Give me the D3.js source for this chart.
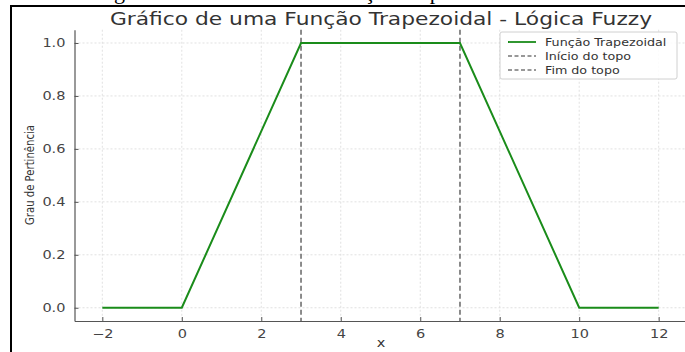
<!DOCTYPE html>
<html><head><meta charset="utf-8">
<script src="https://cdn.jsdelivr.net/npm/d3@7"></script>
<style>
html,body{margin:0;padding:0;background:#fff;}
svg{display:block;}
text{font-family:"DejaVu Sans",sans-serif;}
</style></head>
<body>
<script>
// Data
const xPoints = [-2, 0, 3, 7, 10, 12];
const yPoints = [0, 0, 1, 1, 0, 0];
const topStart = 3;
const topEnd = 7;
const xTicks = [-2, 0, 2, 4, 6, 8, 10, 12];
const yTicks = [0.0, 0.2, 0.4, 0.6, 0.8, 1.0];
const legendLabels = ["Função Trapezoidal", "Início do topo", "Fim do topo"];
const titleText = "Gráfico de uma Função Trapezoidal - Lógica Fuzzy";
const captionText = "Figura 1 - Gráfico de uma Função Trapezoidal";

const W = 685, H = 352;
const SX = 1.21; // horizontal stretch of text in the reference image
const svg = d3.select("body").append("svg").attr("width", W).attr("height", H);

// caption (cut off at top, as in the reference)
svg.append("text").attr("x", 300).attr("y", -1).attr("text-anchor", "middle")
  .style("font-family", "'Liberation Serif', serif").style("font-size", "22px")
  .attr("fill", "#000").text(captionText);

// frame
svg.append("rect").attr("x", 11).attr("y", 6).attr("width", 720).attr("height", 400)
  .attr("fill", "#fff").attr("stroke", "#000").attr("stroke-width", 2);

const x = d3.scaleLinear().domain([-2.7, 12.7]).range([74.5, 686.5]);
const y = d3.scaleLinear().domain([-0.05, 1.05]).range([321, 29.75]);

const plotTop = y(1.05), plotBottom = y(-0.05), plotLeft = x(-2.7), plotRight = x(12.7);

// grid
const g = svg.append("g");
g.selectAll(".gx").data(xTicks).join("line")
  .attr("x1", d => x(d)).attr("x2", d => x(d)).attr("y1", plotTop).attr("y2", plotBottom)
  .attr("stroke", "#d9d9d9").attr("stroke-width", 0.8).attr("stroke-dasharray", "2,2");
g.selectAll(".gy").data(yTicks).join("line")
  .attr("x1", plotLeft).attr("x2", plotRight).attr("y1", d => y(d)).attr("y2", d => y(d))
  .attr("stroke", "#d9d9d9").attr("stroke-width", 0.8).attr("stroke-dasharray", "2,2");

// axes
const xAxis = d3.axisBottom(x).tickValues(xTicks).tickSizeInner(-4).tickSizeOuter(0).tickPadding(8)
  .tickFormat(d => d < 0 ? "\u2212" + Math.abs(d) : d);
const xg = svg.append("g").attr("transform", `translate(0,${plotBottom})`).call(xAxis);
const yAxis = d3.axisLeft(y).tickValues(yTicks).tickSizeInner(-4).tickSizeOuter(0).tickPadding(7.5)
  .tickFormat(d3.format(".1f"));
const yg = svg.append("g").attr("transform", `translate(${plotLeft},0)`).call(yAxis);
[xg, yg].forEach(a => {
  a.select(".domain").attr("stroke", "#555").attr("stroke-width", 1.2);
  a.selectAll(".tick line").attr("stroke", "#555").attr("stroke-width", 1);
  a.selectAll(".tick text").attr("fill", "#444").style("font-size", "12px")
    .style("font-family", "'DejaVu Sans',sans-serif").attr("transform", `scale(${SX},1)`);
});

// dashed vertical lines
[topStart, topEnd].forEach(v => {
  svg.append("line").attr("x1", x(v)).attr("x2", x(v)).attr("y1", plotTop).attr("y2", plotBottom)
    .attr("stroke", "#666").attr("stroke-width", 1.5).attr("stroke-dasharray", "5,3");
});

// trapezoid line
const line = d3.line().x((d, i) => x(xPoints[i])).y((d, i) => y(yPoints[i]));
svg.append("path").datum(xPoints).attr("d", line).attr("fill", "none")
  .attr("stroke", "#1a8c1a").attr("stroke-width", 2);

// title
svg.append("text").attr("transform", `translate(381,25) scale(${SX},1)`).attr("text-anchor", "middle")
  .attr("fill", "#333").style("font-size", "18px").text(titleText);

// axis labels
svg.append("text").attr("transform", `translate(381,347) scale(${SX},1)`).attr("text-anchor", "middle")
  .attr("fill", "#333").style("font-size", "12px").text("x");
svg.append("text").attr("transform", "translate(34,175) rotate(-90)").attr("text-anchor", "middle")
  .attr("fill", "#333").style("font-size", "12px").style("font-family", "'DejaVu Sans Condensed','DejaVu Sans',sans-serif")
  .attr("textLength", 100).attr("lengthAdjust", "spacingAndGlyphs").text("Grau de Pertinência");

// legend
const lg = svg.append("g").attr("transform", "translate(500,32)");
lg.append("rect").attr("x", 0).attr("y", 0).attr("width", 177).attr("height", 47).attr("rx", 2)
  .attr("fill", "#fff").attr("fill-opacity", 0.85).attr("stroke", "#d0d0d0").attr("stroke-width", 1);
const lStyles = [
  {stroke: "#1a8c1a", dash: null, w: 1.8},
  {stroke: "#777", dash: "4,2.5", w: 1.5},
  {stroke: "#777", dash: "4,2.5", w: 1.5}
];
legendLabels.forEach((lab, i) => {
  const yy = 10 + i * 14;
  lg.append("line").attr("x1", 8).attr("x2", 36).attr("y1", yy).attr("y2", yy)
    .attr("stroke", lStyles[i].stroke).attr("stroke-width", lStyles[i].w)
    .attr("stroke-dasharray", lStyles[i].dash);
  lg.append("text").attr("transform", `translate(45,${yy + 3.8}) scale(${SX},1)`).attr("fill", "#333")
    .style("font-size", "10.5px").text(lab);
});
</script>
</body></html>
